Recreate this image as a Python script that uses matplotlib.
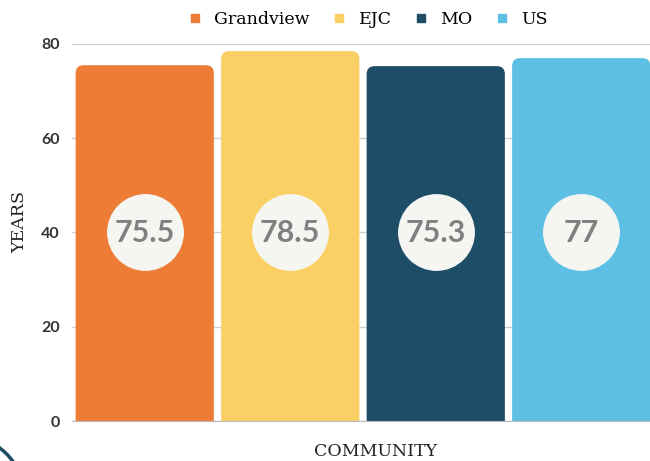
import matplotlib.pyplot as plt
from matplotlib.patches import FancyBboxPatch, Ellipse
from matplotlib.lines import Line2D

communities = ["Grandview", "EJC", "MO", "US"]
years = [75.5, 78.5, 75.3, 77]
labels = ["75.5", "78.5", "75.3", "77"]
colors = ["#ED7D36", "#FAD064", "#1E4E67", "#5DBFE3"]
yticks = [0, 20, 40, 60, 80]

fig = plt.figure(figsize=(6.5, 4.61), dpi=100)
ax = fig.add_axes([72 / 650, 40 / 461, 582 / 650, 377 / 461])

x = range(len(communities))
bars = ax.bar(x, years, width=0.95, color=colors, zorder=2)

# swap plain bars for ones with rounded tops (bottom rounding hidden below the axis)
ax_w = 582 / 4.0
ax_h = 377 / 80.0
r = 8 / ax_w
for b in bars:
    b.set_visible(False)
    bx, bw, bh = b.get_x(), b.get_width(), b.get_height()
    ax.add_patch(FancyBboxPatch((bx, -6), bw, bh + 6,
                                boxstyle=f"round,pad=0,rounding_size={r}",
                                mutation_aspect=ax_w / ax_h,
                                fc=b.get_facecolor(), ec="none", zorder=2))

ax.scatter(list(x), [40] * len(years), s=2950, color="#F5F6F2", zorder=3)
for i, t in enumerate(labels):
    ax.text(i, 40, t, ha="center", va="center", fontsize=22, fontweight="bold",
            family="Lato", color="#808080", zorder=4)

ax.set_xlim(-0.5, 3.5)
ax.set_ylim(0, 80)
ax.set_yticks(yticks)
ax.set_xticks([])
ax.tick_params(axis="y", length=0, pad=9, labelsize=11.5)
for lbl in ax.get_yticklabels():
    lbl.set_family("Lato")
    lbl.set_fontweight("bold")
    lbl.set_color("#333333")
ax.grid(axis="y", color="#D0D0D0", lw=1, zorder=0)
for s in ["top", "right", "left"]:
    ax.spines[s].set_visible(False)
ax.spines["bottom"].set_color("#BBBBBB")

ax.set_ylabel("YEARS", family="DejaVu Serif", fontsize=12.5, color="#222222")
ax.yaxis.set_label_coords(-44 / 582, (417 - 218) / 377)
ax.set_xlabel("COMMUNITY", family="DejaVu Serif", fontsize=12.5, color="#222222")
ax.xaxis.set_label_coords((376 - 72) / 582, -22 / 377)

handles = [Line2D([], [], marker="s", ls="none", color=c, markersize=6) for c in colors]
fig.legend(handles, communities, loc="center", bbox_to_anchor=(368 / 650, 1 - 20 / 461),
           ncol=4, frameon=False, handlelength=0.8, handletextpad=0.7,
           columnspacing=1.3, prop={"family": "DejaVu Serif", "size": 12.5})

# decorative ring just showing in the lower-left corner
fig.patches.append(Ellipse((-40 / 650, 1 - 500 / 461), 131 / 650, 131 / 461,
                           transform=fig.transFigure, fc="none", ec="#1E4E67", lw=2.5))

fig.savefig("out.png", dpi=100)
